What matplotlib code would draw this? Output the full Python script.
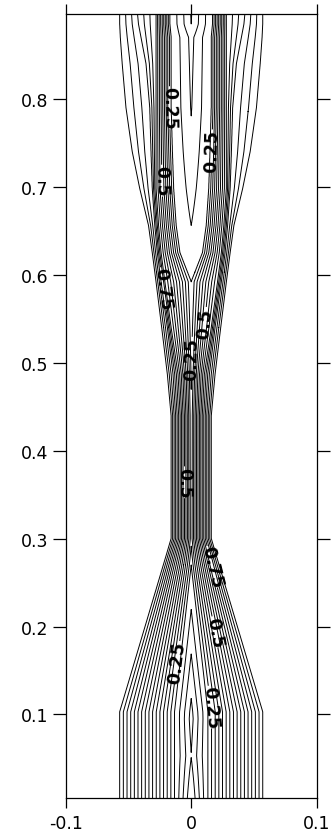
import numpy as np
import matplotlib
matplotlib.use("Agg")
import matplotlib.pyplot as plt

plt.rcParams['font.family'] = ['DejaVu Sans']
plt.rcParams['axes.unicode_minus'] = False

# ---- data (right half; field is mirrored) ----
y_knots    = [0.000, 0.053, 0.095, 0.103, 0.270, 0.300, 0.440, 0.487, 0.540, 0.592, 0.625, 0.656, 0.698, 0.740, 0.790, 0.840, 0.870, 0.885, 0.900]
center_val = [0.000, 0.052, 0.030, 0.035, 0.200, 0.270, 0.262, 0.243, 0.222, 0.200, 0.175, 0.150, 0.130, 0.113, 0.097, 0.090, 0.085, 0.050, 0.045]
pos_020    = [0.0133, 0.0133, 0.0133, 0.0133, 0.0, 0.0, 0.0, 0.0, 0.0, 0.0, 0.009, 0.012, 0.014, 0.015, 0.016, 0.016, 0.016, 0.017, 0.017]
pos_065    = [0.0395, 0.0395, 0.0395, 0.0395, 0.0135, 0.0088, 0.0088, 0.0105, 0.016, 0.021, 0.024, 0.026, 0.028, 0.028, 0.028, 0.028, 0.028, 0.028, 0.028]
pos_080    = [0.0482, 0.0482, 0.0482, 0.0482, 0.0178, 0.0124, 0.0124, 0.0145, 0.019, 0.024, 0.027, 0.029, 0.031, 0.032, 0.033, 0.036, 0.040, 0.042, 0.043]
pos_095    = [0.0570, 0.0570, 0.0570, 0.0570, 0.0222, 0.0160, 0.0160, 0.0190, 0.0235, 0.028, 0.031, 0.034, 0.041, 0.047, 0.052, 0.055, 0.0565, 0.057, 0.057]

levels = [0.05, 0.10, 0.15, 0.20, 0.25, 0.30, 0.35, 0.40, 0.45, 0.50,
          0.55, 0.60, 0.65, 0.70, 0.75, 0.80, 0.85, 0.90, 0.95]
label_levels = [0.25, 0.5, 0.75]
label_text = {0.25: '0.25', 0.5: '0.5', 0.75: '0.75'}
label_pos = {
    0.25: [(-0.0146, 0.790), (0.0133, 0.741), (0.0020, 0.505), (-0.0146, 0.160), (0.0133, 0.108)],
    0.5:  [(-0.0253, 0.707), (0.0133, 0.545), (-0.0107, 0.364), (0.0199, 0.194)],
    0.75: [(-0.0239, 0.584), (0.0199, 0.269)],
}

x_ticks = [-0.1, 0.0, 0.1]
x_tick_labels = ['-0.1', '0', '0.1']
y_ticks = [0.1, 0.2, 0.3, 0.4, 0.5, 0.6, 0.7, 0.8]
y_tick_labels = ['0.1', '0.2', '0.3', '0.4', '0.5', '0.6', '0.7', '0.8']

# ---- build the field from the knot table ----
xg = np.linspace(-0.1, 0.1, 1201)
yg = np.linspace(0.0, 0.9, 1101)
F = np.ones((yg.size, xg.size))
ax_abs = np.abs(xg)
for i, yv in enumerate(yg):
    c = np.interp(yv, y_knots, center_val)
    p2 = np.interp(yv, y_knots, pos_020)
    p65 = np.interp(yv, y_knots, pos_065)
    p8 = np.interp(yv, y_knots, pos_080)
    p95 = np.interp(yv, y_knots, pos_095)
    if c < 0.2 and p2 > 1e-6:
        xp = [0.0, p2, p65, p8, p95, p95 + 0.003]
        fp = [c, 0.2, 0.65, 0.8, 0.95, 1.0]
    else:
        xp = [0.0, p65, p8, p95, p95 + 0.003]
        fp = [c, 0.65, 0.8, 0.95, 1.0]
    F[i] = np.interp(ax_abs, xp, fp, right=1.0)

# ---- figure ----
fig = plt.figure(figsize=(3.32, 8.37), dpi=100)
ax = fig.add_axes([0.1979, 0.0454, 0.756, 0.9367])
plain_levels = [lv for lv in levels if lv not in label_levels]
ax.contour(xg, yg, F, levels=plain_levels, colors='black', linewidths=0.7)
for lv in label_levels:
    cs_l = ax.contour(xg, yg, F, levels=[lv], colors='black', linewidths=0.7)
    txts = ax.clabel(cs_l, manual=label_pos[lv], fmt=label_text,
                     inline=True, inline_spacing=2, fontsize=12.5)
    for t in txts:
        t.set_fontweight('bold')

ax.set_xlim(-0.1, 0.1)
ax.set_ylim(0.005, 0.8965)
ax.set_xticks(x_ticks)
ax.set_xticklabels(x_tick_labels)
ax.set_yticks(y_ticks)
ax.set_yticklabels(y_tick_labels)
ax.tick_params(axis='both', direction='out', width=0.9, colors='black', labelsize=12.5)
ax.tick_params(axis='y', length=9.4, pad=3, left=True, right=True, labelleft=True, labelright=False)
ax.tick_params(axis='x', length=7.2, pad=4, bottom=True, top=True, labelbottom=True, labeltop=False)
for s in ax.spines.values():
    s.set_linewidth(0.9)
    s.set_color('black')

fig.savefig('out.png', dpi=100)
